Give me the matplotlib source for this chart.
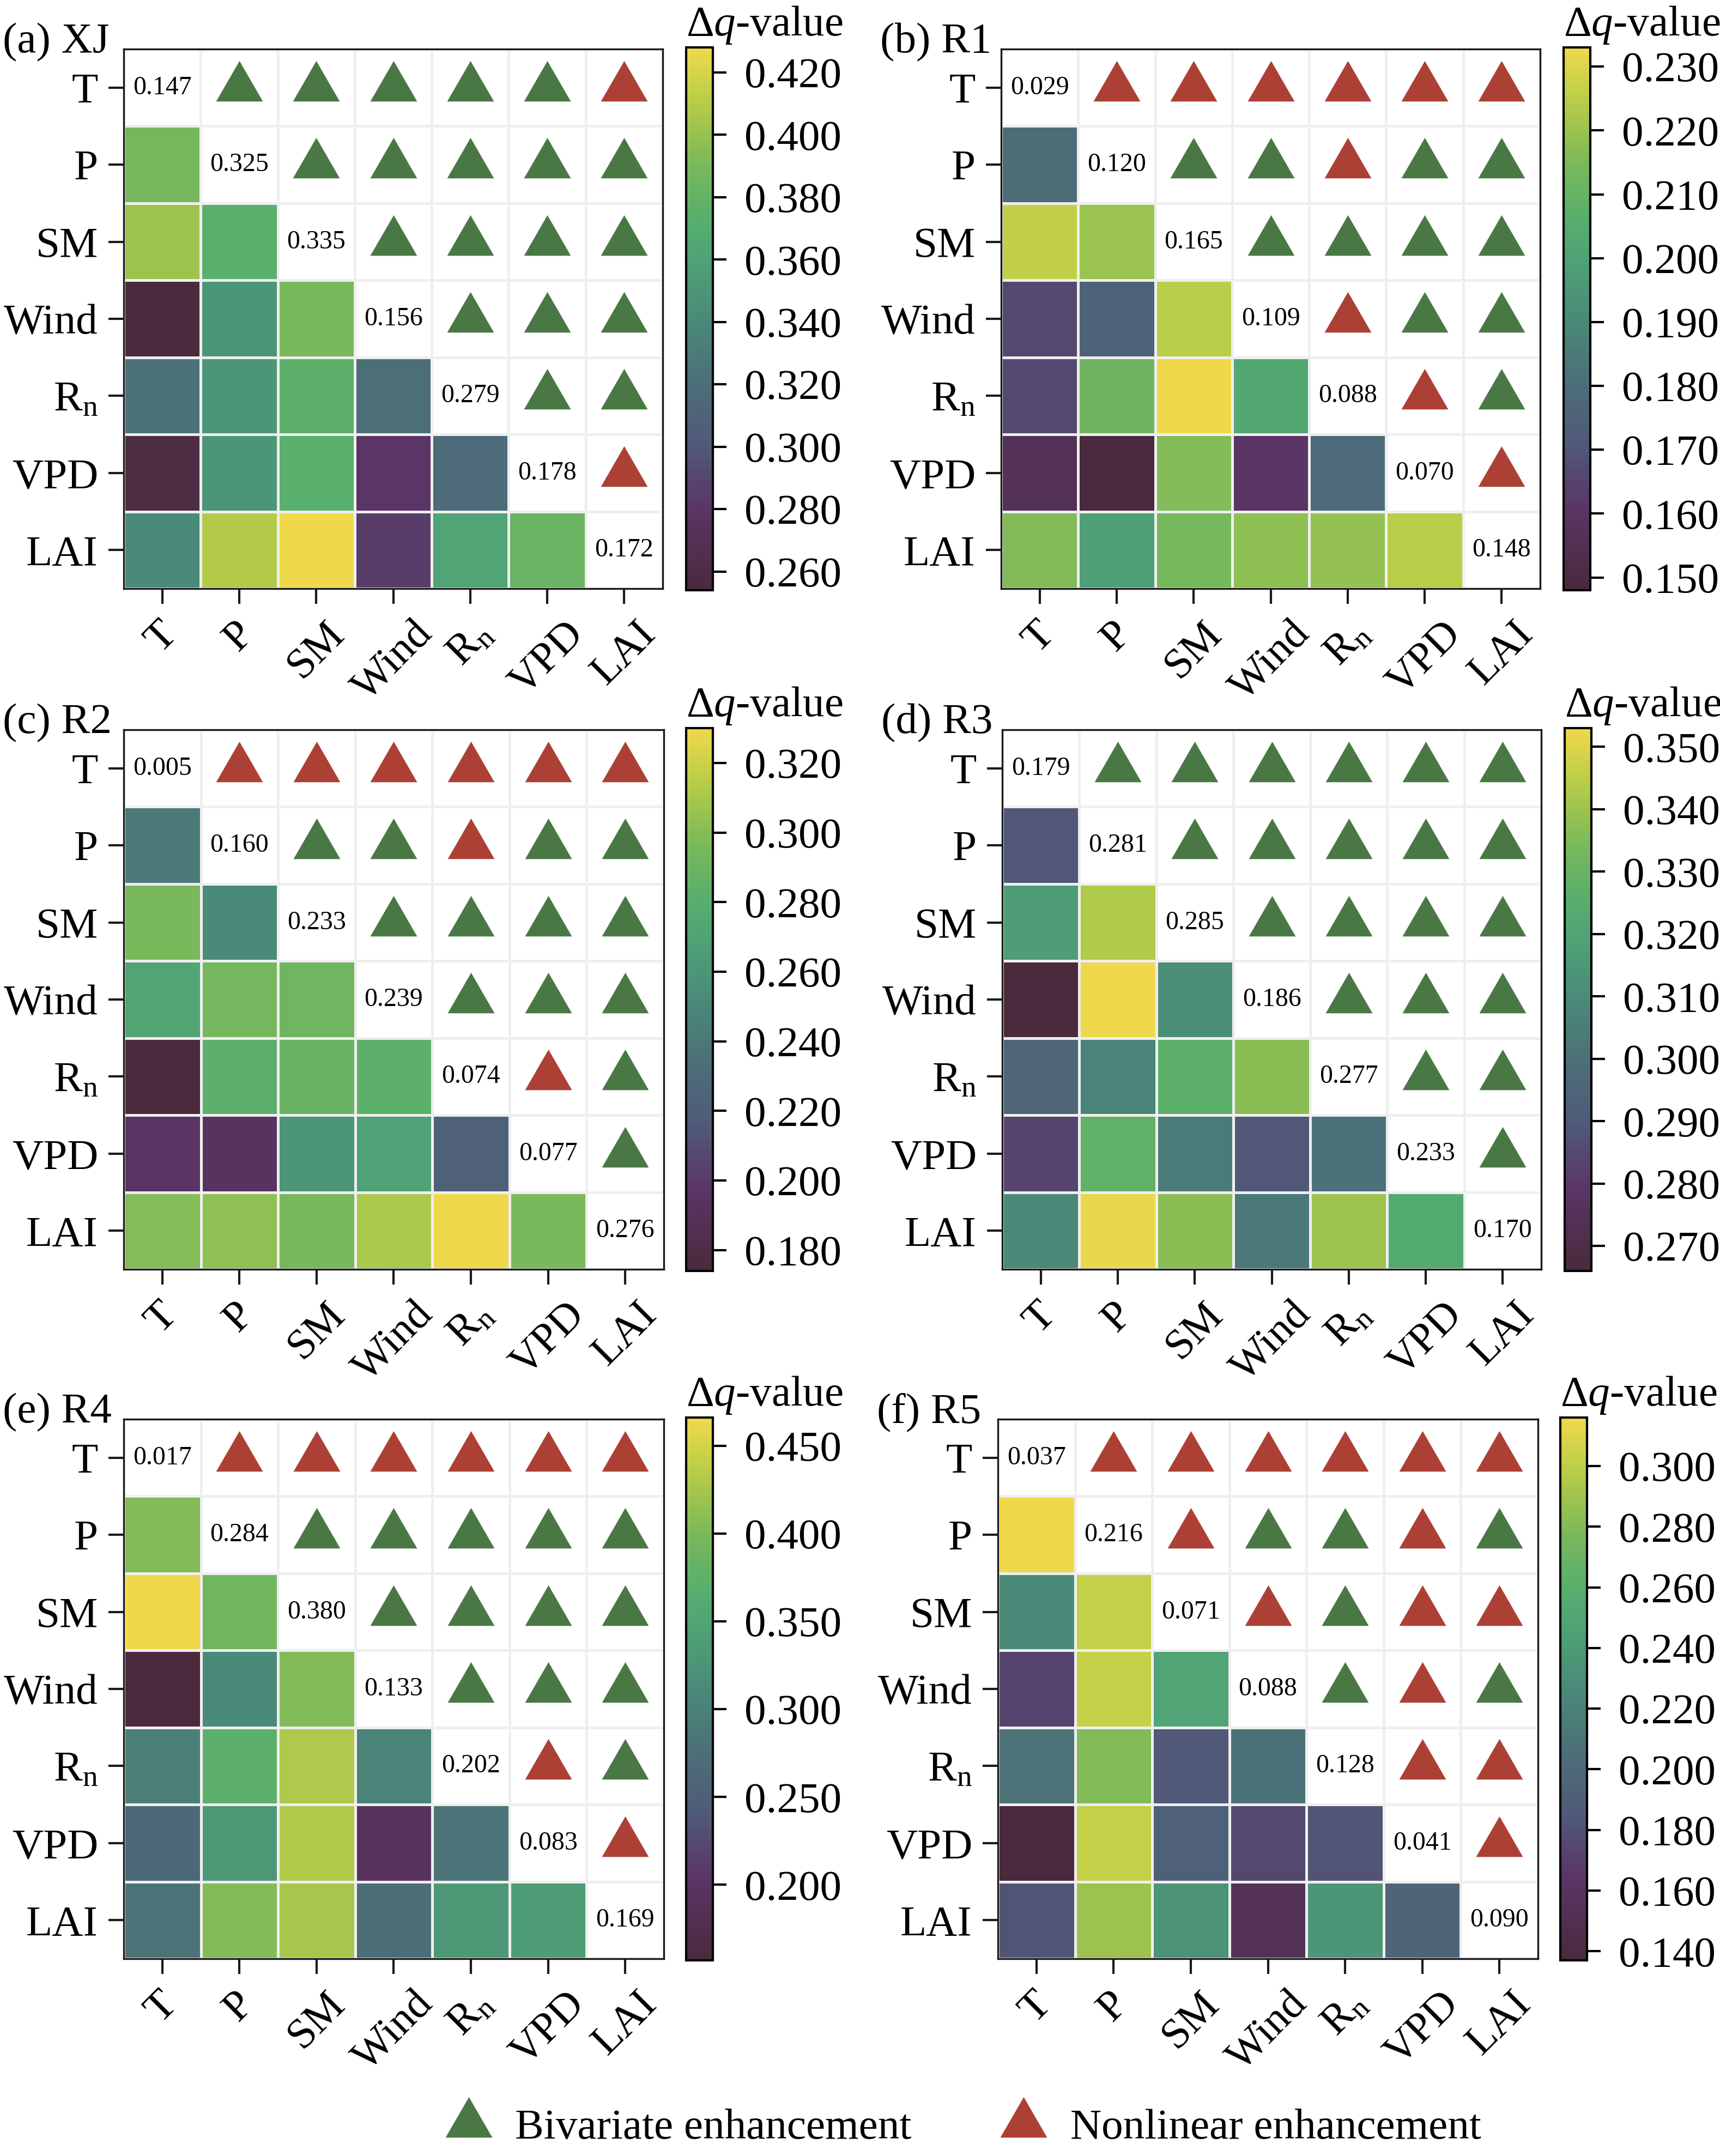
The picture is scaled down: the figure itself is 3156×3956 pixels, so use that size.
import matplotlib
matplotlib.use('Agg')
import matplotlib.pyplot as plt
import numpy as np
from matplotlib.colors import LinearSegmentedColormap, ListedColormap
from matplotlib.lines import Line2D
from matplotlib.transforms import ScaledTranslation

plt.rcParams['font.family'] = ['Liberation Serif', 'DejaVu Serif']
plt.rcParams['mathtext.fontset'] = 'custom'
plt.rcParams['mathtext.rm'] = 'Liberation Serif'
plt.rcParams['mathtext.it'] = 'Liberation Serif:italic'

# factor names (rows / columns)
factors = ['T', 'P', 'SM', 'Wind', r'R$_{\rm n}$', 'VPD', 'LAI']

# ---- panel (a) XJ ----
xj_diag = [0.147, 0.325, 0.335, 0.156, 0.279, 0.178, 0.172]
xj_lower = [[0.388],
            [0.402, 0.374],
            [0.254, 0.350, 0.390],
            [0.322, 0.350, 0.376, 0.320],
            [0.259, 0.350, 0.374, 0.280, 0.317],
            [0.341, 0.409, 0.428, 0.284, 0.362, 0.383]]
xj_upper = ['BBBBBN', 'BBBBB', 'BBBB', 'BBB', 'BB', 'N']
xj_ticks = [0.26, 0.28, 0.30, 0.32, 0.34, 0.36, 0.38, 0.40, 0.42]

# ---- panel (b) R1 ----
r1_diag = [0.029, 0.120, 0.165, 0.109, 0.088, 0.070, 0.148]
r1_lower = [[0.180],
            [0.226, 0.220],
            [0.166, 0.175, 0.225],
            [0.166, 0.212, 0.233, 0.203],
            [0.156, 0.148, 0.216, 0.160, 0.179],
            [0.216, 0.199, 0.214, 0.218, 0.219, 0.225]]
r1_upper = ['NNNNNN', 'BBNBB', 'BBBB', 'NBB', 'NB', 'N']
r1_ticks = [0.15, 0.16, 0.17, 0.18, 0.19, 0.20, 0.21, 0.22, 0.23]

# ---- panel (c) R2 ----
r2_diag = [0.005, 0.160, 0.233, 0.239, 0.074, 0.077, 0.276]
r2_lower = [[0.241],
            [0.296, 0.252],
            [0.272, 0.294, 0.292],
            [0.174, 0.283, 0.289, 0.283],
            [0.196, 0.194, 0.260, 0.268, 0.222],
            [0.299, 0.303, 0.295, 0.310, 0.330, 0.296]]
r2_upper = ['NNNNNN', 'BBNBB', 'BBBB', 'BBB', 'NB', 'B']
r2_ticks = [0.18, 0.20, 0.22, 0.24, 0.26, 0.28, 0.30, 0.32]

# ---- panel (d) R3 ----
r3_diag = [0.179, 0.281, 0.285, 0.186, 0.277, 0.233, 0.170]
r3_lower = [[0.289],
            [0.317, 0.343],
            [0.266, 0.353, 0.311],
            [0.295, 0.307, 0.327, 0.337],
            [0.284, 0.328, 0.304, 0.289, 0.300],
            [0.309, 0.352, 0.337, 0.303, 0.340, 0.323]]
r3_upper = ['BBBBBB', 'BBBBB', 'BBBB', 'BBB', 'BB', 'B']
r3_ticks = [0.27, 0.28, 0.29, 0.30, 0.31, 0.32, 0.33, 0.34, 0.35]

# ---- panel (e) R4 ----
r4_diag = [0.017, 0.284, 0.380, 0.133, 0.202, 0.083, 0.169]
r4_lower = [[0.404],
            [0.466, 0.392],
            [0.157, 0.312, 0.404],
            [0.299, 0.373, 0.429, 0.302],
            [0.265, 0.330, 0.432, 0.197, 0.284],
            [0.281, 0.404, 0.426, 0.271, 0.333, 0.339]]
r4_upper = ['NNNNNN', 'BBBBB', 'BBBB', 'BBB', 'NB', 'N']
r4_ticks = [0.20, 0.25, 0.30, 0.35, 0.40, 0.45]

# ---- panel (f) R5 ----
r5_diag = [0.037, 0.216, 0.071, 0.088, 0.128, 0.041, 0.090]
r5_lower = [[0.316],
            [0.226, 0.302],
            [0.173, 0.302, 0.248],
            [0.209, 0.280, 0.185, 0.207],
            [0.137, 0.302, 0.192, 0.175, 0.182],
            [0.182, 0.289, 0.234, 0.155, 0.235, 0.196]]
r5_upper = ['NNNNNN', 'NBBNB', 'NBNN', 'BNB', 'NN', 'N']
r5_ticks = [0.14, 0.16, 0.18, 0.20, 0.22, 0.24, 0.26, 0.28, 0.30]

legend_labels = ['Bivariate enhancement', 'Nonlinear enhancement']

# colours
cmap = LinearSegmentedColormap.from_list('dq', [
    (0.00, '#4a2a3c'), (0.15, '#5a3566'), (0.27, '#505a78'),
    (0.38, '#4c6e78'), (0.50, '#4a8a78'), (0.61, '#4fa276'),
    (0.68, '#56ae6e'), (0.78, '#78b85c'), (0.85, '#9cc34e'),
    (0.92, '#c2d048'), (1.00, '#f0d84c')])
tri_colors = {'B': '#4a7845', 'N': '#ad4035'}
grid_col = '#efefef'

# equilateral triangle marker centred on its centroid
tri = [(0, 1), (-np.sqrt(3) / 2, -0.5), (np.sqrt(3) / 2, -0.5)]
tri_ms = 23.8

W, H, DPI = 3156, 3956, 300
fig = plt.figure(figsize=(W / DPI, H / DPI), dpi=DPI)
FS = 19


def px_axes(x0, y0, x1, y1):
    return fig.add_axes([x0 / W, 1 - y1 / H, (x1 - x0) / W, (y1 - y0) / H])


def draw_panel(box, cx, title, diag, lower, upper, cticks):
    n = len(factors)
    x0, y0, x1, y1 = box
    ax = px_axes(x0, y0, x1, y1)
    mat = np.full((n, n), np.nan)
    for i, row in enumerate(lower, start=1):
        mat[i, :i] = row
    vmin, vmax = np.nanmin(mat), np.nanmax(mat)
    edges = np.arange(n + 1) - 0.5
    blank = np.where(np.isnan(mat), 0.0, np.nan)
    ax.pcolormesh(edges, edges, np.ma.masked_invalid(blank),
                  cmap=ListedColormap(['white']), edgecolors=grid_col, linewidth=1.2)
    mesh = ax.pcolormesh(edges, edges, np.ma.masked_invalid(mat), cmap=cmap,
                         vmin=vmin, vmax=vmax, edgecolors=grid_col, linewidth=1.2)
    for i, row in enumerate(upper):
        for k, code in enumerate(row):
            ax.scatter(i + 1 + k, i, marker=tri, s=tri_ms ** 2,
                       color=tri_colors[code], linewidths=0, zorder=3)
    for i, v in enumerate(diag):
        ax.text(i, i, f'{v:.3f}', ha='center', va='center', fontsize=11.5)
    ax.set_xlim(-0.5, n - 0.5)
    ax.set_ylim(n - 0.5, -0.5)
    ax.set_xticks(range(n))
    ax.set_yticks(range(n))
    ax.set_yticklabels(factors, fontsize=FS)
    ax.set_xticklabels(factors, fontsize=FS, rotation=45, ha='center', va='top')
    shift = ScaledTranslation(-6 / 72, 0, fig.dpi_scale_trans)
    for lab in ax.get_xticklabels():
        lab.set_transform(lab.get_transform() + shift)
    ax.tick_params(length=6.8, width=1.0, pad=4.5, color='#1a1a1a')
    for sp in ax.spines.values():
        sp.set_linewidth(0.8)
        sp.set_color('#1a1a1a')

    fig.text((x0 - 222) / W, 1 - (y0 + 6) / H, title, fontsize=FS,
             ha='left', va='baseline')

    cax = px_axes(cx, y0 - 3, cx + 49, y1 + 3)
    cb = fig.colorbar(mesh, cax=cax, ticks=cticks, format='%.3f')
    cb.outline.set_linewidth(1.0)
    cb.ax.tick_params(length=6, width=1.0, pad=8, labelsize=FS)
    fig.text(cx / W, 1 - (y0 - 25) / H, r'$\Delta q$-value', fontsize=FS,
             ha='left', va='baseline')


draw_panel((227, 90, 1216, 1080), 1259, '(a) XJ', xj_diag, xj_lower, xj_upper, xj_ticks)
draw_panel((1837, 90, 2826, 1080), 2869, '(b) R1', r1_diag, r1_lower, r1_upper, r1_ticks)
draw_panel((227, 1339, 1218, 2329), 1259, '(c) R2', r2_diag, r2_lower, r2_upper, r2_ticks)
draw_panel((1839, 1339, 2828, 2329), 2871, '(d) R3', r3_diag, r3_lower, r3_upper, r3_ticks)
draw_panel((227, 2604, 1218, 3594), 1259, '(e) R4', r4_diag, r4_lower, r4_upper, r4_ticks)
draw_panel((1831, 2604, 2822, 3594), 2863, '(f) R5', r5_diag, r5_lower, r5_upper, r5_ticks)

handles = [Line2D([], [], linestyle='none', marker=tri, markersize=tri_ms,
                  markerfacecolor=tri_colors[c], markeredgewidth=0) for c in 'BN']
fig.legend(handles, legend_labels, loc='center', bbox_to_anchor=(1765 / W, 1 - 3905 / H),
           ncol=2, frameon=False, fontsize=FS, handlelength=1.2,
           handletextpad=0.48, columnspacing=2.0)

fig.savefig('out.png', dpi=DPI)
